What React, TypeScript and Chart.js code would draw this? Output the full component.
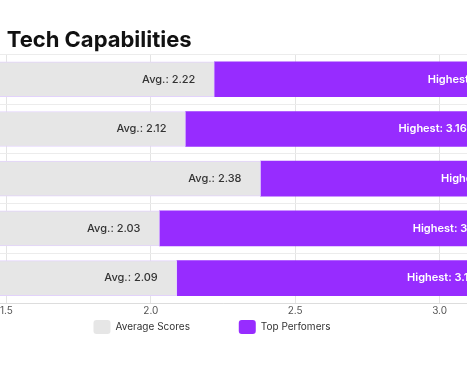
import React, { useEffect, useRef } from "react";
import { Chart, registerables } from "chart.js";

Chart.register(...registerables);

const categories = [
  "Data Infrastructure",
  "Analytics & Insights",
  "Marketing Automation",
  "Systems Integration",
  "AI & Machine Learning",
];
const avgScores = [2.22, 2.12, 2.38, 2.03, 2.09];
const topScores = [3.27, 3.16, 3.31, 3.22, 3.19];
const seriesNames = ["Average Scores", "Top Perfomers"];
const titleText = "Maturity Level: Tech Capabilities";
const xMin = 1;
const xMax = 3.5;
const xStep = 0.5;

const GRAY = "#e6e6e6";
const PURPLE = "#972cff";
const LAVENDER = "#e3d3fb";
const FONT = "Inter, 'Noto Sans', sans-serif";

const valueLabels = {
  id: "valueLabels",
  afterDatasetsDraw(chart: any) {
    const ctx = chart.ctx;
    ctx.save();
    ctx.textAlign = "right";
    ctx.textBaseline = "middle";
    chart.data.datasets.forEach((_ds: any, di: number) => {
      const meta = chart.getDatasetMeta(di);
      meta.data.forEach((bar: any, i: number) => {
        const p = bar.getProps(["x", "y"], true);
        if (di === 0) {
          ctx.fillStyle = "#333333";
          ctx.font = `500 11px ${FONT}`;
          ctx.fillText(`Avg.: ${avgScores[i].toFixed(2)}`, p.x - 19, p.y);
        } else {
          ctx.fillStyle = "#ffffff";
          ctx.font = `600 11px ${FONT}`;
          ctx.fillText(`Highest: ${topScores[i].toFixed(2)}`, p.x - 19, p.y);
        }
      });
    });
    ctx.restore();
  },
};

export default function App() {
  const ref = useRef<HTMLCanvasElement | null>(null);

  useEffect(() => {
    if (!ref.current) return;
    const chart = new Chart(ref.current, {
      type: "bar",
      data: {
        labels: categories,
        datasets: [
          {
            label: seriesNames[0],
            data: avgScores,
            backgroundColor: GRAY,
            borderColor: LAVENDER,
            borderWidth: 1,
            borderSkipped: false,
            grouped: false,
            barThickness: 35,
          } as any,
          {
            label: seriesNames[1],
            data: avgScores.map((a, i) => [a, topScores[i]]),
            backgroundColor: PURPLE,
            borderWidth: 0,
            grouped: false,
            barThickness: 35,
          } as any,
        ],
      },
      options: {
        indexAxis: "y",
        animation: false,
        responsive: true,
        maintainAspectRatio: false,
        layout: { padding: { left: 8, right: 12, top: 0, bottom: 46 } },
        scales: {
          x: {
            min: xMin,
            max: xMax,
            ticks: {
              stepSize: xStep,
              padding: 2,
              color: "#555555",
              font: { family: FONT, size: 10 },
              callback: (v: any) => Number(v).toFixed(1),
            },
            grid: { color: "#e4e4e4", drawTicks: false },
            border: { color: "#dddddd" },
          },
          y: {
            ticks: { display: false },
            grid: { color: "#ececec", drawTicks: false },
            border: { display: false },
            afterFit: (s: any) => {
              s.width = 22;
            },
          },
        },
        plugins: {
          title: {
            display: true,
            text: titleText,
            align: "start",
            color: "#111111",
            font: { family: FONT, size: 22, weight: "bold" },
            padding: { top: 27, bottom: 1 },
          },
          legend: {
            position: "bottom",
            labels: {
              boxWidth: 17,
              boxHeight: 14,
              padding: 1,
              useBorderRadius: true,
              borderRadius: 3,
              color: "#333333",
              font: { family: FONT, size: 10 },
              generateLabels: (c: any) =>
                Chart.defaults.plugins.legend.labels
                  .generateLabels(c)
                  .map((l: any, i: number) => ({
                    ...l,
                    lineWidth: 0,
                    text: i === 0 ? l.text + "                 " : l.text,
                  })),
            },
          },
          tooltip: { enabled: false },
        },
      } as any,
      plugins: [valueLabels],
    });
    return () => chart.destroy();
  }, []);

  return (
    <div
      style={{
        position: "fixed",
        left: 0,
        top: 0,
        width: 467,
        height: 390,
        overflow: "hidden",
        background: "#ffffff",
      }}
    >
      <div style={{ position: "absolute", left: -168, top: 0, width: 764, height: 390 }}>
        <canvas ref={ref} />
      </div>
    </div>
  );
}
